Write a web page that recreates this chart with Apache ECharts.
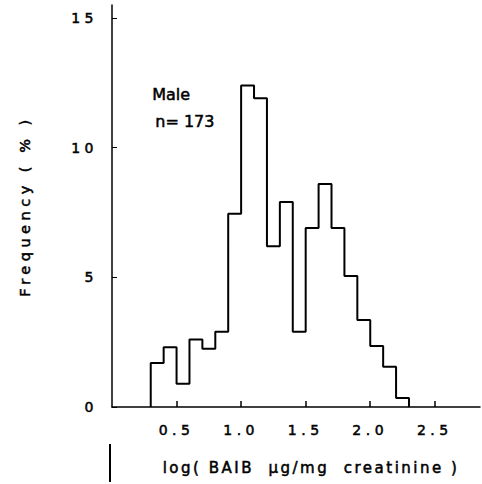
<!DOCTYPE html>
<html><head><meta charset="utf-8">
<script src="https://cdn.jsdelivr.net/npm/echarts@6/dist/echarts.min.js"></script>
<style>
html,body{margin:0;padding:0;background:#fff}
#c{width:482px;height:484px}
#c text[style*="14px"]{letter-spacing:4.5px}
#c text[style*="14.5px"]{letter-spacing:4.5px}
#c text[style*="15px"]{letter-spacing:2.5px}
</style>
</head><body><div id="c"></div>
<script>
var binEdges = [0.3,0.4,0.5,0.6,0.7,0.8,0.9,1.0,1.1,1.2,1.3,1.4,1.5,1.6,1.7,1.8,1.9,2.0,2.1,2.2,2.3];
var freq = [1.7,2.3,0.9,2.6,2.25,2.9,7.45,12.4,11.9,6.2,7.9,2.9,6.9,8.6,6.9,5.05,3.35,2.35,1.55,0.35];
var xTicks = [0.5,1.0,1.5,2.0,2.5];
var yTicks = [0,5,10,15];
var xTitle = 'log( BAIB  \u03bcg/mg  creatinine )';
var yTitle = 'Frequency ( % )';
var noteLines = ['Male', 'n= 173'];

var pts = [[binEdges[0], 0]];
for (var i = 0; i < freq.length; i++) pts.push([binEdges[i], freq[i]]);
pts.push([binEdges[binEdges.length - 1], 0]);

var font = 'DejaVu Sans';
var thick = {textBorderColor: '#000', textBorderWidth: 0.5};
function ts(size) {
  return Object.assign({fontFamily: font, fontSize: size, color: '#000'}, thick);
}
var chart = echarts.init(document.getElementById('c'), null, {renderer: 'svg'});
chart.setOption({
  animation: false,
  backgroundColor: '#fff',
  grid: {left: 112, right: 2, top: 5, bottom: 77},
  xAxis: {
    type: 'value', min: 0, max: 2.85,
    name: xTitle, nameLocation: 'middle', nameGap: 53,
    nameTextStyle: Object.assign(ts(15), {padding: [0, 0, 0, 30]}),
    axisLine: {lineStyle: {color: '#000', width: 1.5}},
    axisTick: {inside: true, length: 6, lineStyle: {color: '#000', width: 1.5}, customValues: xTicks},
    axisLabel: Object.assign(ts(14), {customValues: xTicks, margin: 16,
      formatter: function (v) { return v.toFixed(1); }}),
    splitLine: {show: false}
  },
  yAxis: {
    type: 'value', min: 0, max: 15.5,
    name: yTitle, nameLocation: 'middle', nameGap: 80,
    nameTextStyle: Object.assign(ts(14.5), {padding: [0, 0, 0, 0]}),
    axisLine: {show: true, lineStyle: {color: '#000', width: 1.5}},
    axisTick: {show: true, inside: true, length: 5, lineStyle: {color: '#000', width: 1}, customValues: yTicks},
    axisLabel: Object.assign(ts(14), {customValues: yTicks, margin: 14}),
    splitLine: {show: false}
  },
  series: [{
    type: 'line', step: 'end', data: pts, symbol: 'none',
    lineStyle: {color: '#000', width: 2}
  }],
  graphic: [
    {type: 'text', left: 152, top: 86, style: {text: noteLines[0], fontFamily: font, fontSize: 16, fill: '#000', stroke: '#000', lineWidth: 0.5}},
    {type: 'text', left: 155, top: 113, style: {text: noteLines[1], fontFamily: font, fontSize: 16, fill: '#000', stroke: '#000', lineWidth: 0.5}},
    {type: 'line', shape: {x1: 110, y1: 444, x2: 110, y2: 482}, style: {stroke: '#000', lineWidth: 2}}
  ]
});
</script></body></html>
